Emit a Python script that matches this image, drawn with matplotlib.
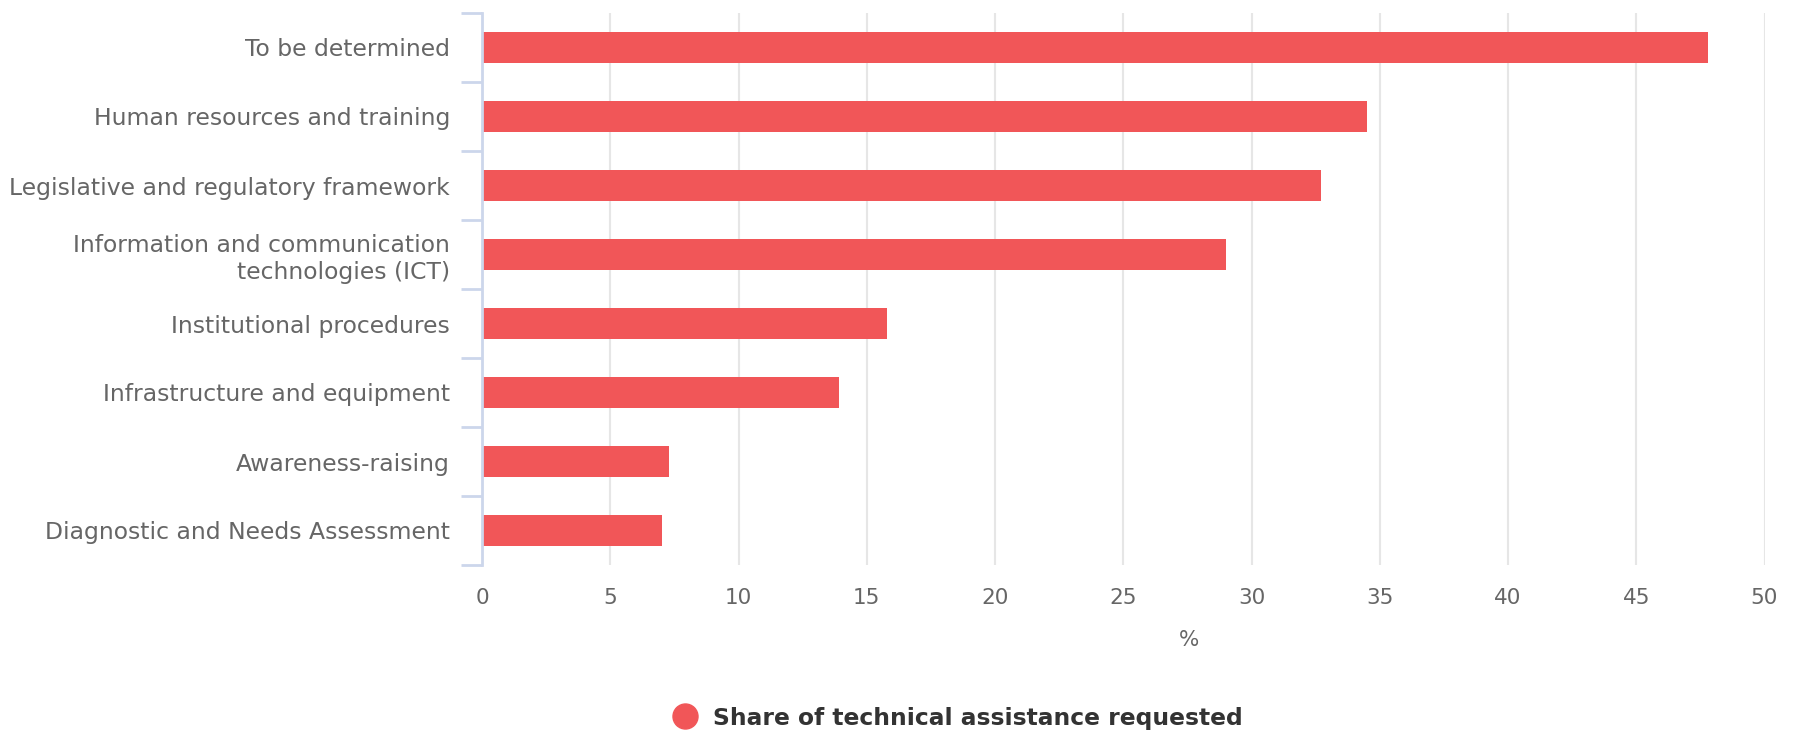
import numpy as np
import matplotlib.pyplot as plt
from matplotlib.lines import Line2D

# datos
categorias = ['To be determined',
              'Human resources and training',
              'Legislative and regulatory framework',
              'Information and communication\ntechnologies (ICT)',
              'Institutional procedures',
              'Infrastructure and equipment',
              'Awareness-raising',
              'Diagnostic and Needs Assessment']
valores = [47.8, 34.5, 32.7, 29.0, 15.8, 13.9, 7.3, 7.0]
serie = 'Share of technical assistance requested'
xticks = [0, 5, 10, 15, 20, 25, 30, 35, 40, 45, 50]

rojo = '#f15658'
gris = '#666666'

fig = plt.figure(figsize=(17.97, 7.34), dpi=100)
ax = fig.add_axes([482/1797, 1-565/734, (1764.5-482)/1797, (565-13)/734])

y = np.arange(len(categorias))
ax.barh(y, valores, height=0.45, color=rojo, zorder=3)

ax.set_xlim(0, 50)
ax.set_ylim(len(categorias)-0.5, -0.5)
ax.set_xticks(xticks)
ax.set_xticklabels([str(t) for t in xticks], fontsize=15.5, color=gris)
ax.tick_params(axis='x', length=0, pad=16.5)
ax.xaxis.grid(True, color='#e6e6e6', linewidth=1.5, zorder=0)

# etiquetas en el centro, marcas en los limites
ax.set_yticks(y)
ax.set_yticklabels(categorias, fontsize=16.9, color=gris, linespacing=1.2)
ax.tick_params(axis='y', which='major', length=0, pad=23)
ax.set_yticks(np.arange(-0.5, len(categorias)), minor=True)
ax.tick_params(axis='y', which='minor', length=15, width=2, color='#ccd6eb')

for s in ['top', 'right', 'bottom']:
    ax.spines[s].set_visible(False)
ax.spines['left'].set_color('#ccd6eb')
ax.spines['left'].set_linewidth(2)
ax.spines['left'].set_zorder(4)

ax.text(27.55, -(640-565)/(565-13), '%', transform=ax.get_xaxis_transform(),
        fontsize=15.5, color=gris, ha='center', va='center')

h = [Line2D([], [], marker='o', ls='', color=rojo, markersize=18)]
fig.legend(h, [serie], loc='center', bbox_to_anchor=(958/1797, 1-718/734),
           frameon=False, prop={'size': 16.8, 'weight': 'bold'}, labelcolor='#333333',
           handletextpad=0.7, handlelength=1.0)

plt.savefig('out.png')
